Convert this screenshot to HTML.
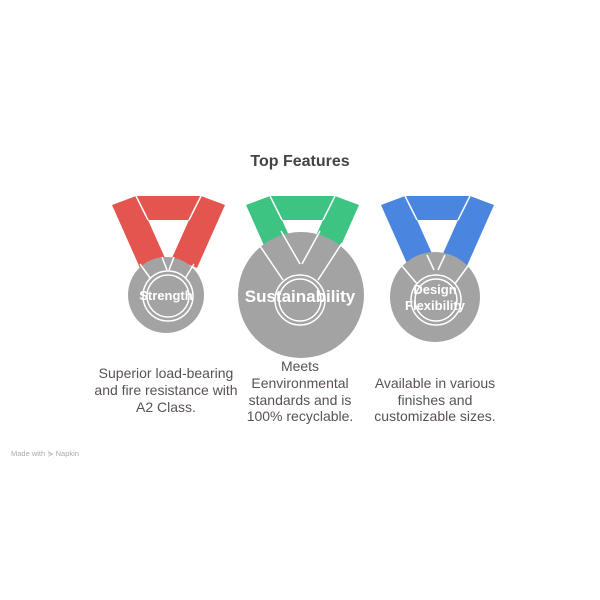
<!DOCTYPE html>
<html><head><style>
body{margin:0;background:#fff;}
svg{display:block}
text{font-family:"Liberation Sans",sans-serif;}
</style></head><body>
<svg width="600" height="600" viewBox="0 0 600 600">
<text x="300" y="166" text-anchor="middle" font-size="16" font-weight="bold" fill="#444">Top Features</text>
<defs>
<g id="rib">
<polygon points="0,9 24,0 36,24 53,62 28,72"/>
<polygon points="113,9 89,0 77,24 60,62 85,72"/>
<polygon points="24,0 89,0 80,24 33,24"/>
<line x1="24" y1="0" x2="36" y2="24" stroke="#fff" stroke-width="1.5"/>
<line x1="89" y1="0" x2="77" y2="24" stroke="#fff" stroke-width="1.5"/>
</g>
</defs>
<g fill="#e45550"><use href="#rib" x="112" y="196"/></g>
<g fill="#3ec482"><use href="#rib" x="246" y="196"/></g>
<g fill="#4a86e0"><use href="#rib" x="381" y="196"/></g>
<g stroke="#fff" stroke-width="1.5" fill="#a3a3a3">
<circle cx="166" cy="295" r="38" stroke="none"/>
<path d="M140,264 L153,282 M162,257 L167,270 M174,257 L169,270 M194,264 L183,282" fill="none"/>
<circle cx="168" cy="296" r="25"/><circle cx="168" cy="296" r="21"/>
<circle cx="301" cy="295" r="63" stroke="none"/>
<path d="M258,243 L283,280 M281,231 L300,264 M320,231 L302,264 M342,243 L318,280" fill="none"/>
<circle cx="300" cy="300" r="25"/><circle cx="300" cy="300" r="21"/>
<circle cx="435" cy="297" r="45" stroke="none"/>
<path d="M402,266 L418,285 M427,255 L434,270 M445,255 L438,270 M468,266 L454,285" fill="none"/>
<circle cx="436" cy="300" r="25"/><circle cx="436" cy="300" r="21"/>
</g>
<g fill="#fff" font-weight="bold" text-anchor="middle">
<text x="166" y="300" font-size="13">Strength</text>
<text x="300" y="302" font-size="17">Sustainability</text>
<text x="435" y="294" font-size="13">Design</text>
<text x="435" y="310" font-size="13">Flexibility</text>
</g>
<g font-size="14" fill="#5a5252" text-anchor="middle">
<text x="166" y="378">Superior load-bearing</text>
<text x="166" y="395">and fire resistance with</text>
<text x="166" y="412">A2 Class.</text>
<text x="300" y="371">Meets</text>
<text x="300" y="388">Eenvironmental</text>
<text x="300" y="405">standards and is</text>
<text x="300" y="421">100% recyclable.</text>
<text x="435" y="388">Available in various</text>
<text x="435" y="405">finishes and</text>
<text x="435" y="421">customizable sizes.</text>
</g>
<text x="11" y="456" font-size="7.5" fill="#aaa">Made with ⋟ Napkin</text>
</svg>
</body></html>
